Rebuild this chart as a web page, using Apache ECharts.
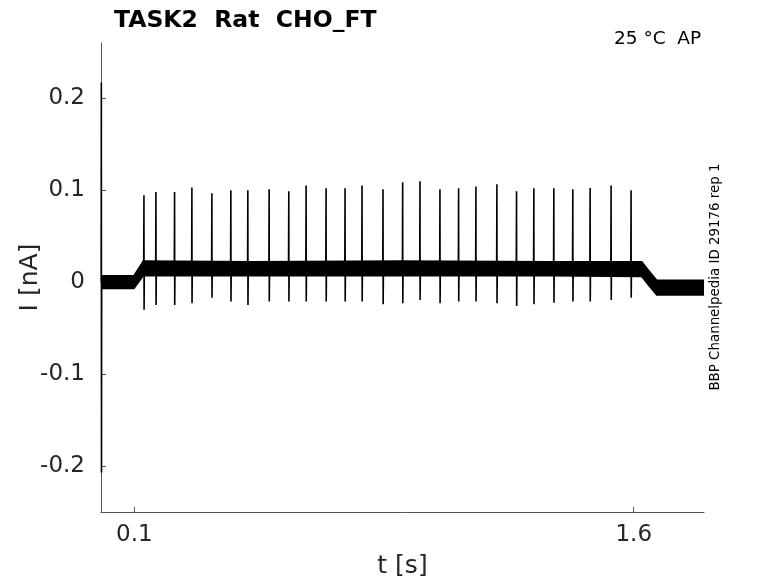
<!DOCTYPE html>
<html>
<head>
<meta charset="utf-8">
<script src="https://cdn.jsdelivr.net/npm/echarts@6/dist/echarts.min.js"></script>
<style>
  html, body { margin: 0; padding: 0; background: #fff; }
  #chart { width: 778px; height: 583px; }
</style>
</head>
<body>
<div id="chart"></div>
<script>
// spike times [s], peak and trough currents [nA]
const spikeTimes = [0.129, 0.165, 0.221, 0.273, 0.333, 0.390, 0.441, 0.505, 0.564,
  0.616, 0.676, 0.733, 0.784, 0.847, 0.906, 0.958, 1.018, 1.074, 1.126,
  1.189, 1.248, 1.300, 1.360, 1.417, 1.469, 1.532, 1.592];
const spikePeaks = [0.0945, 0.098, 0.098, 0.103, 0.0966, 0.100, 0.100, 0.101, 0.0988,
  0.105, 0.102, 0.102, 0.105, 0.101, 0.1086, 0.1097, 0.101, 0.102, 0.104,
  0.1064, 0.0988, 0.102, 0.102, 0.101, 0.1024, 0.105, 0.100];
const spikeTroughs = [-0.030, -0.025, -0.025, -0.023, -0.017, -0.021, -0.025, -0.021, -0.021,
  -0.021, -0.021, -0.021, -0.021, -0.024, -0.023, -0.0195, -0.023, -0.021, -0.021,
  -0.023, -0.026, -0.024, -0.0225, -0.021, -0.021, -0.0195, -0.017];
const spikeBase = 0.015;

// start-of-sweep transient
const transientT = [0.0005, 0.001, 0.0015, 0.002];
const transientI = [0, 0.217, -0.207, 0];

// noise band envelope of the holding / step current
const bandT     = [0.002, 0.099, 0.113, 0.127, 0.45, 0.90, 1.35, 1.624, 1.646, 1.669, 1.75, 1.811];
const bandUpper = [0.007, 0.007, 0.015, 0.023, 0.022, 0.023, 0.022, 0.022, 0.012, 0.002, 0.002, 0.002];
const bandLower = [-0.007, -0.007, 0.000, 0.007, 0.007, 0.007, 0.007, 0.006, -0.004, -0.014, -0.014, -0.014];

const xTicks = [0.1, 1.6];
const yTicks = [-0.2, -0.1, 0, 0.1, 0.2];

const traceData = [];
transientT.forEach((t, i) => traceData.push([t, transientI[i]]));
traceData.push('-'); // gap: the holding current itself is drawn as the band
spikeTimes.forEach((t, i) => {
  traceData.push([t - 0.0008, spikeBase]);
  traceData.push([t, spikePeaks[i]]);
  traceData.push([t + 0.0004, spikeTroughs[i]]);
  traceData.push([t + 0.0012, spikeBase]);
});

const font = 'DejaVu Sans';
const txt = '#262626';
const axisCol = '#555';

const chart = echarts.init(document.getElementById('chart'));
chart.setOption({
  animation: false,
  backgroundColor: '#fff',
  title: {
    text: 'TASK2  Rat  CHO_FT',
    left: 109, top: 4,
    textStyle: { fontFamily: font, fontSize: 23.5, fontWeight: 'bold', color: '#000' }
  },
  grid: { left: 101, right: 74, top: 43, bottom: 71, outerBoundsMode: 'none', containLabel: false },
  xAxis: {
    type: 'value', min: 0, max: 1.811,
    name: 't [s]', nameLocation: 'middle', nameGap: 42, nameMoveOverlap: false,
    nameTextStyle: { fontFamily: font, fontSize: 25, color: txt },
    axisLine: { show: true, onZero: false, lineStyle: { color: axisCol, width: 1 } },
    axisTick: { show: true, inside: true, length: 5, customValues: xTicks, lineStyle: { color: axisCol } },
    axisLabel: { customValues: xTicks, margin: 12, fontFamily: font, fontSize: 23, color: txt },
    splitLine: { show: false }
  },
  yAxis: {
    type: 'value', min: -0.25, max: 0.26,
    name: 'I [nA]', nameLocation: 'middle', nameGap: 58, nameMoveOverlap: false,
    nameTextStyle: { fontFamily: font, fontSize: 25, color: txt },
    axisLine: { show: true, onZero: false, lineStyle: { color: axisCol, width: 1 } },
    axisTick: { show: true, inside: true, length: 5, customValues: yTicks, lineStyle: { color: axisCol } },
    axisLabel: { customValues: yTicks, margin: 16, fontFamily: font, fontSize: 23, color: txt,
      formatter: v => String(Math.round(v * 10) / 10) },
    splitLine: { show: false }
  },
  series: [
    {
      type: 'custom',
      coordinateSystem: 'cartesian2d',
      clip: true,
      data: [[0, 0]],
      renderItem: (params, api) => {
        const upper = bandT.map((t, i) => api.coord([t, bandUpper[i]]));
        const lower = bandT.map((t, i) => api.coord([t, bandLower[i]])).reverse();
        return {
          type: 'polygon',
          shape: { points: upper.concat(lower) },
          style: { fill: '#000', stroke: '#000', lineWidth: 1.5 }
        };
      },
      z: 2
    },
    {
      type: 'line',
      data: traceData,
      showSymbol: false,
      connectNulls: false,
      lineStyle: { color: '#000', width: 1.6 },
      clip: true,
      z: 3
    }
  ],
  graphic: [
    {
      type: 'text', left: 614, top: 30,
      style: { text: '25 °C  AP', fontFamily: font, fontSize: 18.5, fill: '#000' }
    },
    {
      type: 'text', x: 716, y: 277, rotation: Math.PI / 2,
      style: { text: 'BBP Channelpedia ID 29176 rep 1', fontFamily: font, fontSize: 13.4,
        fill: '#000', align: 'center', verticalAlign: 'middle' }
    }
  ]
});
</script>
</body>
</html>
